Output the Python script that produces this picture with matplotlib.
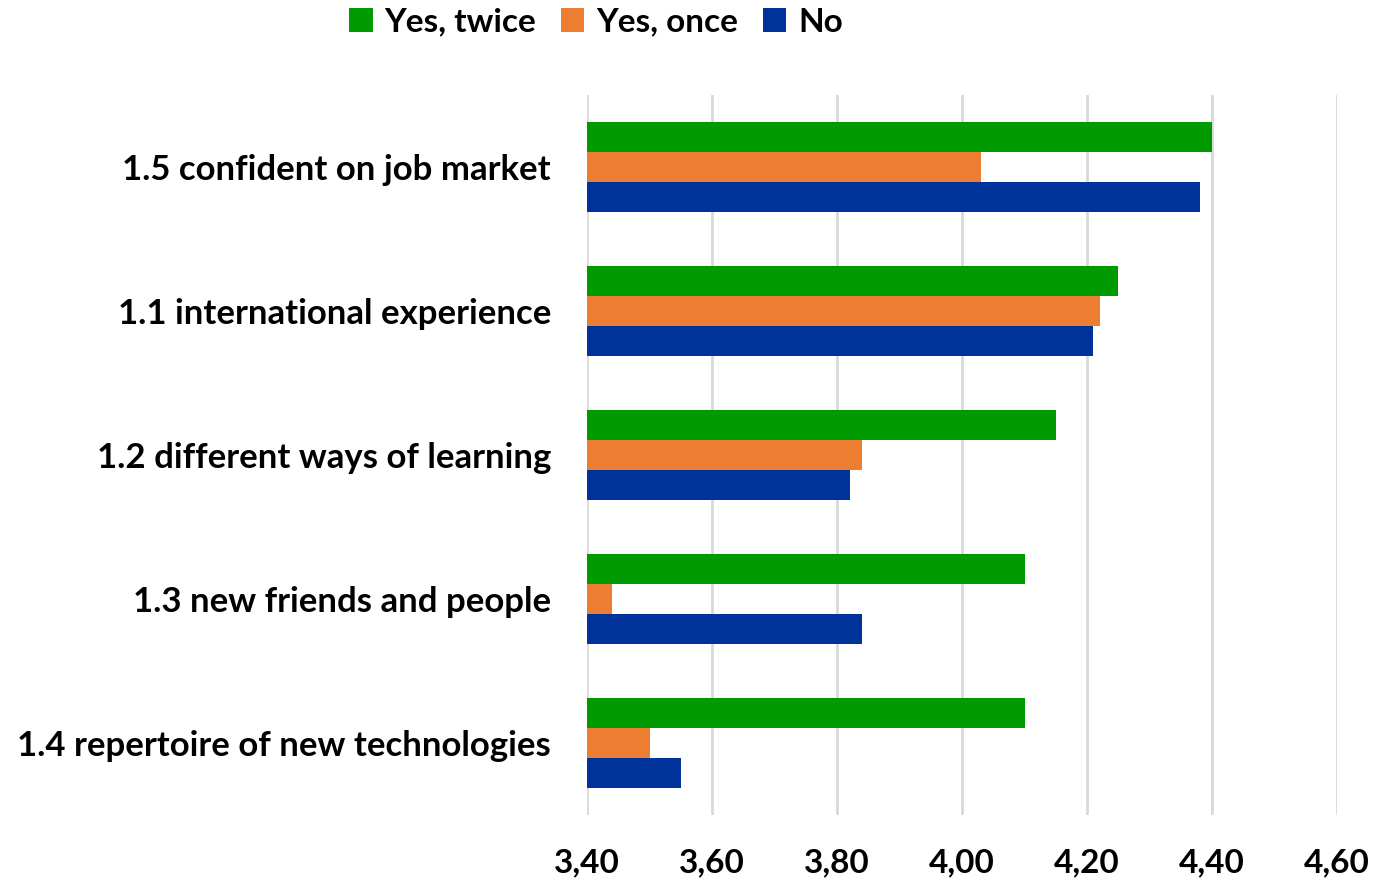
import matplotlib
matplotlib.use("Agg")
import matplotlib.pyplot as plt
from matplotlib.patches import Patch
import numpy as np

categories = [
    "1.5 confident on job market",
    "1.1 international experience",
    "1.2 different ways of learning",
    "1.3 new friends and people",
    "1.4 repertoire of new technologies",
]
series_names = ["Yes, twice", "Yes, once", "No"]
yes_twice = [4.40, 4.25, 4.15, 4.10, 4.10]
yes_once = [4.03, 4.22, 3.84, 3.44, 3.50]
no_values = [4.38, 4.21, 3.82, 3.84, 3.55]
x_ticks = [3.40, 3.60, 3.80, 4.00, 4.20, 4.40, 4.60]
x_tick_labels = ["3,40", "3,60", "3,80", "4,00", "4,20", "4,40", "4,60"]

colors = ["#009900", "#ED7D31", "#003399"]
font = "Lato"

fig = plt.figure(figsize=(13.79, 8.81), dpi=100)
ax = fig.add_axes([587 / 1379, 1 - 815 / 881, 750 / 1379, 720 / 881])

y = np.arange(len(categories))
h = 0.21
base = x_ticks[0]
for i, (vals, c) in enumerate(zip([yes_twice, yes_once, no_values], colors)):
    ax.barh(y + (i - 1) * h, np.array(vals) - base, left=base, height=h,
            color=c, zorder=3, label=series_names[i])

ax.set_xlim(x_ticks[0], x_ticks[-1])
ax.set_ylim(len(categories) - 0.5, -0.5)
ax.set_xticks(x_ticks)
ax.set_xticklabels(x_tick_labels, fontsize=24, fontweight="bold", family=font)
ax.set_yticks(y)
ax.set_yticklabels(categories, fontsize=25, fontweight="bold", family=font)
ax.tick_params(axis="both", length=0)
ax.tick_params(axis="x", pad=24)
ax.tick_params(axis="y", pad=26)
ax.grid(axis="x", color="#D9D9D9", linewidth=2, zorder=0)
for s in ax.spines.values():
    s.set_visible(False)

handles = [Patch(facecolor=c, edgecolor="none") for c in colors]
fig.legend(handles, series_names, loc="center", bbox_to_anchor=(596 / 1379, 1 - 22 / 881),
           ncol=3, frameon=False, prop={"family": font, "weight": "bold", "size": 24},
           handlelength=0.7, handleheight=0.7, handletextpad=0.35, columnspacing=0.75)

fig.savefig("out.png", dpi=100)
